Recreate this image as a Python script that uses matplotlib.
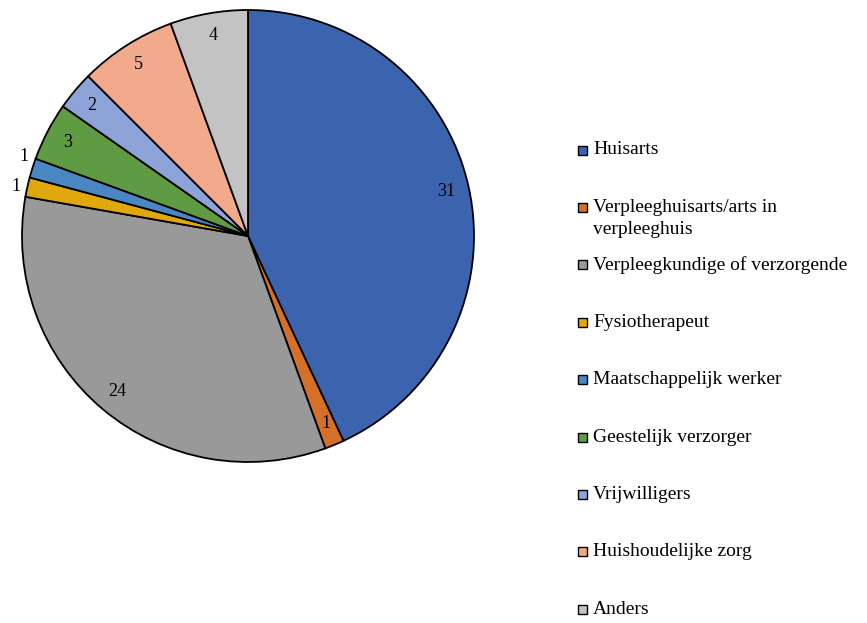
import matplotlib
matplotlib.use("Agg")
import matplotlib.pyplot as plt
from matplotlib.patches import Rectangle
import numpy as np

categories = ["Huisarts", "Verpleeghuisarts/arts in\nverpleeghuis", "Verpleegkundige of verzorgende",
              "Fysiotherapeut", "Maatschappelijk werker", "Geestelijk verzorger",
              "Vrijwilligers", "Huishoudelijke zorg", "Anders"]
values = [31, 1, 24, 1, 1, 3, 2, 5, 4]
colors = ["#3C64AE", "#D5702B", "#999999", "#E0A80A", "#4A86C2", "#5F9B43",
          "#8EA4D8", "#F1AA8B", "#C3C3C3"]

plt.rcParams['font.family'] = ['Liberation Serif', 'DejaVu Serif']

W, H = 867, 623
fig = plt.figure(figsize=(W/100, H/100), dpi=100)
cx, cy, r = 248, 236, 226
ax = fig.add_axes([(cx - r)/W, (H - cy - r)/H, 2*r/W, 2*r/H])
wedges, _ = ax.pie(values, colors=colors, startangle=90, counterclock=False,
                   radius=1, wedgeprops=dict(edgecolor='black', linewidth=1.3))
ax.set_xlim(-1, 1); ax.set_ylim(-1, 1)
ax.set_aspect('equal')

for i, (w, v) in enumerate(zip(wedges, values)):
    ang = (w.theta1 + w.theta2) / 2
    d = 0.9
    if i == 3:
        d, ang = 1.05, ang + 0.5
    elif i == 4:
        d, ang = 1.05, ang - 2
    ang = np.deg2rad(ang)
    ax.text(d*np.cos(ang), d*np.sin(ang), str(v), ha='center', va='center', fontsize=13)

# legend
y0, dy = 150, 57.4
for i, (c, lab) in enumerate(zip(colors, categories)):
    yy = y0 + i*dy
    s = 9
    fig.patches.append(Rectangle((578/W, (H - yy - s/2)/H), s/W, s/H, transform=fig.transFigure,
                                 facecolor=c, edgecolor='black', linewidth=1.0))
    lines = lab.split("\n")
    fig.text(593/W, (H - yy)/H, lines[0], fontsize=14, va='center', ha='left')
    if len(lines) > 1:
        fig.text(593/W, (H - yy - 22)/H, lines[1], fontsize=14, va='center', ha='left')

fig.savefig("out.png", dpi=100)
